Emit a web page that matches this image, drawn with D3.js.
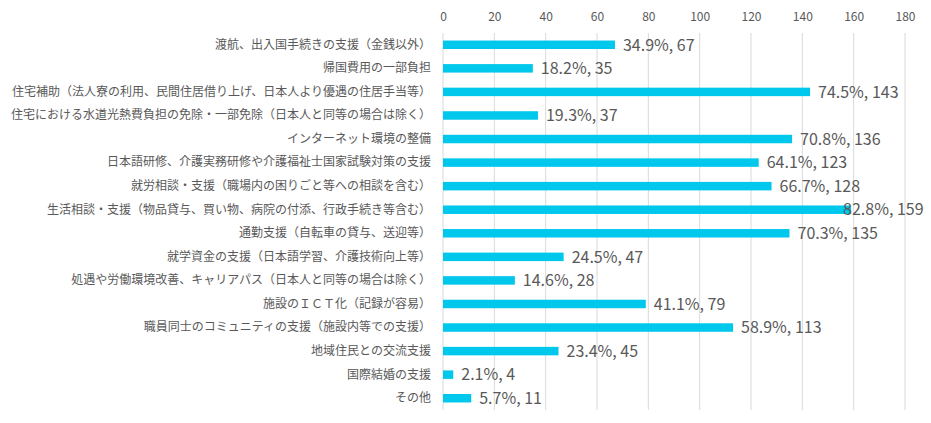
<!DOCTYPE html>
<html><head><meta charset="utf-8">
<script src="https://cdn.jsdelivr.net/npm/d3@7"></script>
<style>body{margin:0;background:#fff}svg{display:block}text{font-family:"Noto Sans CJK JP","Noto Sans",sans-serif}</style>
</head><body><svg id="c" width="931" height="423"></svg>
<script>
const categories = [
 "渡航、出入国手続きの支援（金銭以外）",
 "帰国費用の一部負担",
 "住宅補助（法人寮の利用、民間住居借り上げ、日本人より優遇の住居手当等）",
 "住宅における水道光熱費負担の免除・一部免除（日本人と同等の場合は除く）",
 "インターネット環境の整備",
 "日本語研修、介護実務研修や介護福祉士国家試験対策の支援",
 "就労相談・支援（職場内の困りごと等への相談を含む）",
 "生活相談・支援（物品貸与、買い物、病院の付添、行政手続き等含む）",
 "通勤支援（自転車の貸与、送迎等）",
 "就学資金の支援（日本語学習、介護技術向上等）",
 "処遇や労働環境改善、キャリアパス（日本人と同等の場合は除く）",
 "施設のＩＣＴ化（記録が容易）",
 "職員同士のコミュニティの支援（施設内等での支援）",
 "地域住民との交流支援",
 "国際結婚の支援",
 "その他"
];
const counts = [67,35,143,37,136,123,128,159,135,47,28,79,113,45,4,11];
const percents = ["34.9%","18.2%","74.5%","19.3%","70.8%","64.1%","66.7%","82.8%","70.3%","24.5%","14.6%","41.1%","58.9%","23.4%","2.1%","5.7%"];
const ticks = [0,20,40,60,80,100,120,140,160,180];

const svg = d3.select("#c");
const x = d3.scaleLinear().domain([0,180]).range([443,905]);
const y = d3.scaleBand().domain(categories).range([33,410]).paddingInner(0.64).paddingOuter(0.32);

svg.append("g").selectAll("line").data(ticks).join("line")
 .attr("x1",d=>x(d)).attr("x2",d=>x(d)).attr("y1",33).attr("y2",410)
 .attr("stroke","#d9d9d9").attr("stroke-width",1);

const ax = d3.axisTop(x).tickValues(ticks).tickSize(0).tickPadding(0);
svg.append("g").attr("transform","translate(0,21)").call(ax)
 .call(g=>g.select(".domain").remove())
 .call(g=>g.selectAll("text").attr("fill","#595959").attr("font-size",12).attr("font-family","\"Noto Sans CJK JP\",sans-serif"));

const ay = d3.axisLeft(y).tickSize(0).tickPadding(12);
svg.append("g").attr("transform","translate(443,0)").call(ay)
 .call(g=>g.select(".domain").remove())
 .call(g=>g.selectAll("text").attr("fill","#595959").attr("font-size",12).attr("font-family","\"Noto Sans CJK JP\",sans-serif"));

const data = categories.map((c,i)=>({c,v:counts[i],p:percents[i]}));
svg.append("g").selectAll("rect").data(data).join("rect")
 .attr("x",x(0)).attr("y",d=>y(d.c)).attr("width",d=>x(d.v)-x(0)).attr("height",y.bandwidth())
 .attr("fill","#00c8ec");

svg.append("g").selectAll("text").data(data).join("text")
 .attr("x",d=>d.v===159 ? x(d.v)-8 : x(d.v)+8).attr("y",d=>y(d.c)+y.bandwidth()/2)
 .attr("dy","0.36em").attr("font-size",16).attr("fill","#595959")
 .text(d=>`${d.p}, ${d.v}`);
</script></body></html>
